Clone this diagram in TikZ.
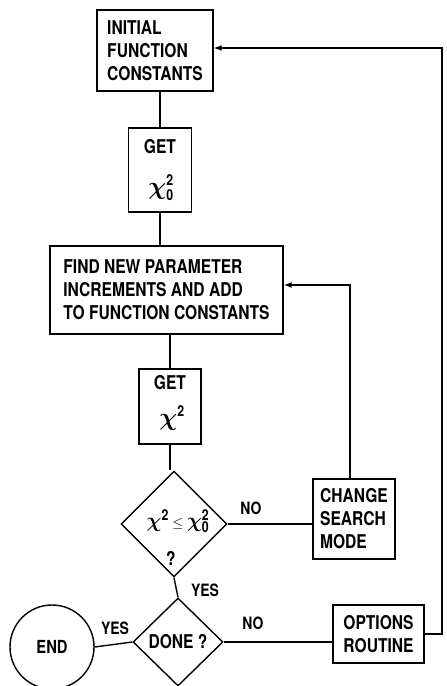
\documentclass[tikz,border=0pt]{standalone}
\usepackage{fontspec}
\usepackage{bm}
\newfontfamily\lett{TeX Gyre Heros}[FakeStretch=0.82]
\newcommand\lscr[1]{\mbox{\fontsize{15}{15}\selectfont\lett\bfseries #1}}
\usetikzlibrary{shapes.geometric,arrows.meta}
\begin{document}
\begin{tikzpicture}[x=1pt,y=-1pt,line width=1.4pt,
  txt/.style={inner sep=0pt,align=left,font=\lett\bfseries\fontsize{19}{23}\selectfont},
  box/.style={draw,inner sep=0pt,align=left,font=\lett\bfseries\fontsize{19}{23}\selectfont},
  mth/.style={inner sep=0pt,font=\lett\bfseries\fontsize{25}{27}\selectfont},
  diam/.style={draw,diamond,inner sep=0pt},
  lbl/.style={inner sep=0pt,font=\lett\bfseries\fontsize{17}{20}\selectfont},
  arr/.style={-{Latex[length=8pt,width=6pt]}}]
\useasboundingbox (0,0) rectangle (447,686);
% boxes
\node[box,minimum width=116pt,minimum height=81pt] (b1) at (155,50.5) {INITIAL\\FUNCTION\\CONSTANTS};
\node[box,minimum width=63pt,minimum height=84pt] (b2) at (160,170) {};
\node[txt] (b2t) at (160,147) {GET};
\node[mth] (b2c) at (161,188) {$\bm{\chi}^{\lscr{2}}_{\lscr{0}}$};
\node[box,minimum width=233pt,minimum height=88pt] (b3) at (166.5,290) {FIND NEW PARAMETER\\INCREMENTS AND ADD\\TO FUNCTION CONSTANTS};
\node[box,minimum width=62pt,minimum height=75pt] (b4) at (170,406.5) {};
\node[txt] (b4t) at (170,383) {GET};
\node[mth] (b4c) at (172,418) {$\bm{\chi}^{\lscr{2}}$};
% decision 1
\node[diam,minimum width=106pt,minimum height=106pt] (d1) at (174,524) {};
\node[inner sep=0pt,font=\lett\bfseries\fontsize{22}{25}\selectfont] (d1t) at (178,521) {$\bm{\chi}^{\lscr{2}}\,{\scriptstyle\le}\,\bm{\chi}^{\lscr{2}}_{\lscr{0}}$};
\node[txt] (d1q) at (171,558) {?};
\node[box,minimum width=82pt,minimum height=80pt] (cs) at (354,519) {CHANGE\\SEARCH\\MODE};
% decision 2
\node[diam,minimum width=90pt,minimum height=88pt] (d2) at (178,642) {};
\node[txt] (d2t) at (178,642) {DONE ?};
\node[draw,circle,minimum size=84pt,inner sep=0pt,font=\lett\bfseries\fontsize{18}{22}\selectfont] (end) at (52,647) {END};
\node[box,align=center,minimum width=91pt,minimum height=58pt] (op) at (378.5,634) {OPTIONS\\ROUTINE};
% labels
\node[lbl] (no1) at (251,508) {NO};
\node[lbl] (yes1) at (205,590) {YES};
\node[lbl] (yes2) at (115,628) {YES};
\node[lbl] (no2) at (253,623) {NO};
% connectors
\draw (b2.north) -- (b2.north |- b1.south);
\draw (b2.south) -- (b2.south |- b3.north);
\draw (b4.north) -- (b4.north |- b3.south);
\draw (b4.south) -- (b4.south |- d1.north);
\draw (d1.east) -- (d1.east -| cs.west);
\coordinate (c3) at (350,285);
\draw[arr] (cs.north -| c3) -- (c3) -- (c3 -| b3.east);
\draw (d1.south) -- (d2.north);
\draw (d2.west) -- (end.east);
\draw (d2.east) -- (d2.east -| op.west);
\coordinate (r1) at (442,634);
\coordinate (r2) at (442,48);
\draw[arr] (op.east) -- (r1) -- (r2) -- (r2 -| b1.east);
\end{tikzpicture}
\end{document}
